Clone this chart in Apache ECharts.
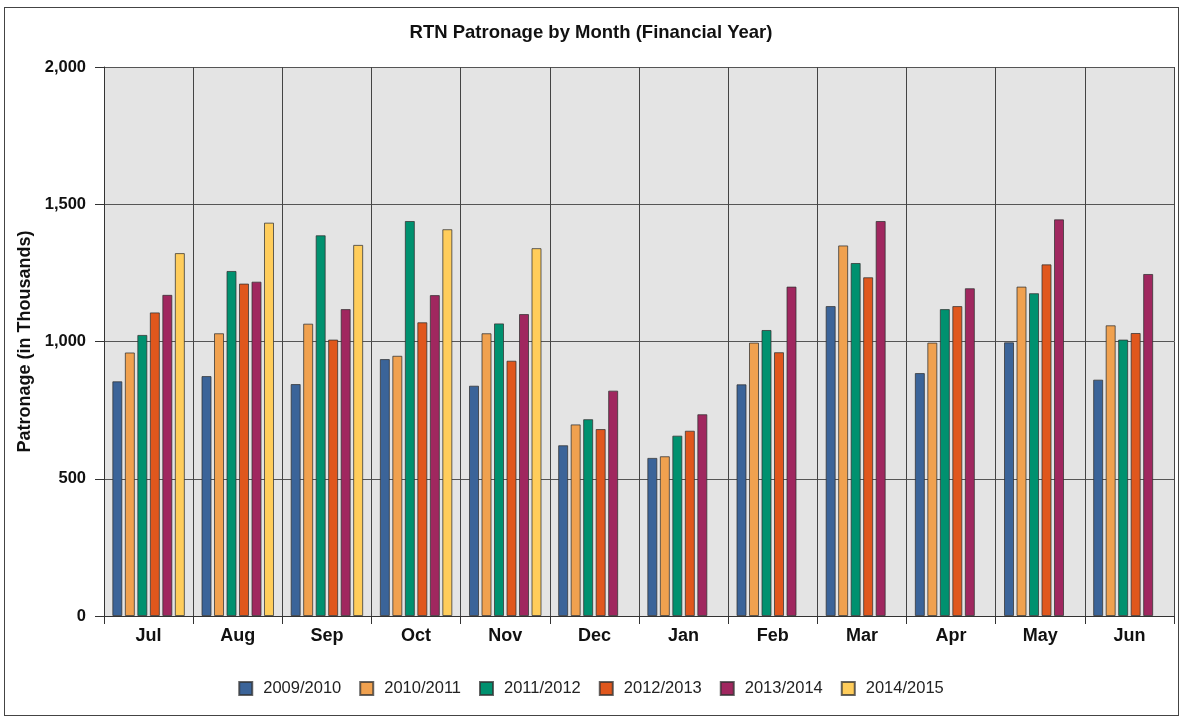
<!DOCTYPE html>
<html lang="en">
<head>
  <meta charset="utf-8">
  <title>RTN Patronage by Month</title>
  <style>
    html, body { margin: 0; padding: 0; background: #fff; }
    #frame { position: absolute; left: 4px; top: 7px; width: 1173px; height: 707px; border: 1px solid #444; pointer-events: none; }
    #chart1 { position: absolute; left: 0; top: 0; width: 1182px; height: 719px; }
  </style>
</head>
<body>

<script src="https://cdn.jsdelivr.net/npm/echarts@6/dist/echarts.min.js"></script>

<div id="chart1"></div>
<div id="frame"></div>

<script>
  // months of the financial year
  var months = ['Jul', 'Aug', 'Sep', 'Oct', 'Nov', 'Dec', 'Jan', 'Feb', 'Mar', 'Apr', 'May', 'Jun'];

  // patronage in thousands, one array per financial year
  var fy0910 = [855, 874, 845, 936, 839, 622, 576, 844, 1129, 885, 997, 861];
  var fy1011 = [960, 1030, 1065, 948, 1030, 698, 582, 996, 1350, 996, 1200, 1059];
  var fy1112 = [1024, 1257, 1387, 1439, 1066, 717, 657, 1042, 1286, 1118, 1176, 1007];
  var fy1213 = [1106, 1211, 1007, 1070, 930, 681, 675, 961, 1234, 1129, 1281, 1031];
  var fy1314 = [1170, 1218, 1118, 1169, 1100, 821, 735, 1200, 1439, 1194, 1445, 1246];
  var fy1415 = [1322, 1433, 1352, 1409, 1340, null, null, null, null, null, null, null];

  var seriesNames = ['2009/2010', '2010/2011', '2011/2012', '2012/2013', '2013/2014', '2014/2015'];
  var seriesData = [fy0910, fy1011, fy1112, fy1213, fy1314, fy1415];
  var colores = ['#3b6499', '#f0a14f', '#00916f', '#e0571d', '#a0275f', '#ffcd5b'];

  var yTicks = [0, 500, 1000, 1500, 2000];

  var chart1 = echarts.init(document.getElementById('chart1'));

  var seriesList = [];
  for (var i = 0; i < seriesNames.length; ++i) {
    seriesList.push({
      name: seriesNames[i],
      type: 'bar',
      barWidth: 10,
      barGap: '25%',
      itemStyle: {
        color: colores[i],
        borderColor: 'rgba(50,50,50,0.75)',
        borderWidth: 1
      },
      data: seriesData[i]
    });
  }

  var option = {
    animation: false,
    color: colores,
    title: {
      text: 'RTN Patronage by Month (Financial Year)',
      left: 'center',
      top: 18,
      textStyle: { fontFamily: 'Liberation Sans', fontSize: 18.5, fontWeight: 'bold', color: '#111' }
    },
    legend: {
      bottom: 17,
      left: 'center',
      itemWidth: 13,
      itemHeight: 13,
      itemGap: 18,
      icon: 'rect',
      textStyle: { fontFamily: 'Liberation Sans', fontSize: 16.5, color: '#222', padding: [0, 0, 0, 6] },
      data: seriesNames
    },
    grid: {
      left: 104,
      right: 8,
      top: 67,
      bottom: 103,
      show: true,
      backgroundColor: '#e4e4e4',
      borderWidth: 0
    },
    xAxis: {
      type: 'category',
      data: months,
      axisLine: { lineStyle: { color: '#333', width: 1 } },
      axisTick: { show: true, length: 8, lineStyle: { color: '#333' } },
      axisLabel: { margin: 11, fontFamily: 'Liberation Sans', fontSize: 18, fontWeight: 'bold', color: '#111' },
      splitLine: { show: true, lineStyle: { color: '#444', width: 1 } }
    },
    yAxis: {
      type: 'value',
      min: yTicks[0],
      max: yTicks[yTicks.length - 1],
      interval: 500,
      name: 'Patronage (in Thousands)',
      nameLocation: 'middle',
      nameGap: 70,
      nameTextStyle: { fontFamily: 'Liberation Sans', fontSize: 18, fontWeight: 'bold', color: '#111' },
      axisLine: { show: true, lineStyle: { color: '#333', width: 1 } },
      axisTick: { show: true, length: 9, lineStyle: { color: '#333' } },
      axisLabel: {
        margin: 18,
        fontFamily: 'Liberation Sans',
        fontSize: 16.5,
        fontWeight: 'bold',
        color: '#111',
        formatter: function (v) { return v.toLocaleString('en-US'); }
      },
      splitLine: { show: true, lineStyle: { color: '#555', width: 1 } }
    },
    series: seriesList
  };
  chart1.setOption(option);
</script>

</body>
</html>
